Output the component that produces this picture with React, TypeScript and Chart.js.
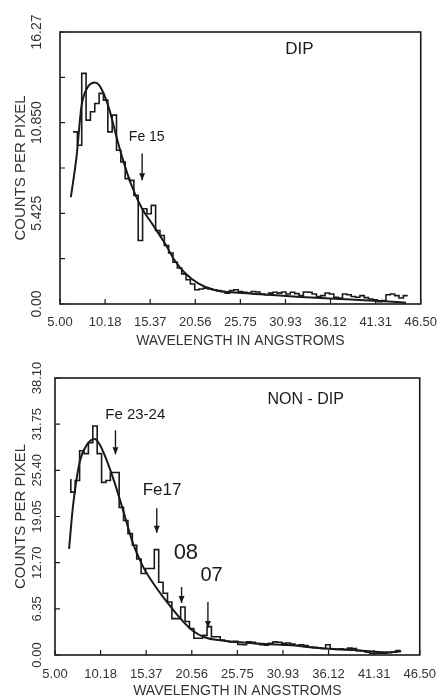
import React, { useEffect, useRef } from 'react';
import { Chart, registerables } from 'chart.js';
Chart.register(...registerables);

// ---------- data ----------
const X_TICKS = [5.0, 10.1875, 15.375, 20.5625, 25.75, 30.9375, 36.125, 41.3125, 46.5];
const X_TICK_LABELS = ['5.00', '10.18', '15.37', '20.56', '25.75', '30.93', '36.12', '41.31', '46.50'];

const DIP_Y_TICKS = [0, 2.7125, 5.425, 8.1375, 10.85, 13.5625, 16.275];
const DIP_Y_LABELS = ['0.00', '', '5.425', '', '10.850', '', '16.27'];

const NONDIP_Y_TICKS = [0, 6.35, 12.7, 19.05, 25.4, 31.75, 38.1];
const NONDIP_Y_LABELS = ['0.00', '6.35', '12.70', '19.05', '25.40', '31.75', '38.10'];

const BIN_WIDTH = 0.5;

const DIP_BIN_START = 6.5;
const dipCounts = [
  10.3, 9.5, 13.8, 11.0, 11.5, 12.0, 12.6, 12.2, 10.3, 11.3,
  9.2, 8.5, 7.5, 7.4, 6.5, 3.8, 5.7, 5.4, 5.9, 4.4,
  4.1, 3.5, 3.05, 2.5, 2.15, 1.8, 1.45, 1.2, 0.85, 0.9,
  0.95, 0.9, 0.85, 0.8, 0.75, 0.65, 0.8, 0.85, 0.75, 0.7,
  0.65, 0.75, 0.72, 0.6, 0.55, 0.65, 0.7, 0.65, 0.72, 0.6,
  0.7, 0.62, 0.5, 0.72, 0.7, 0.6, 0.45, 0.5, 0.66, 0.6,
  0.4, 0.36, 0.6, 0.55, 0.45, 0.4, 0.5, 0.38, 0.3, 0.25,
  0.14, 0.2, 0.55, 0.6, 0.5, 0.36, 0.5,
];
const dipFitX = [6.25, 6.9, 7.46, 8.0, 9.0, 9.5, 10.1, 10.7, 11.4, 12.2, 13.3, 14.45, 15.6, 17.1, 18.2, 19.4, 20.9, 22.8, 26.5, 32.2, 37.9, 41.7, 44.8];
const dipFitY = [6.4, 8.8, 11.8, 12.8, 13.25, 13.1, 12.5, 11.6, 10.2, 8.7, 7.0, 5.7, 4.8, 3.6, 2.6, 1.84, 1.24, 0.84, 0.64, 0.44, 0.28, 0.18, 0.08];

const NONDIP_BIN_START = 6.8;
const NONDIP_LEAD = 24.2;
const nonDipCounts = [
  22.4, 24.0, 28.1, 27.7, 29.2, 31.5, 27.7, 23.75, 24.0, 25.1,
  25.1, 20.3, 18.5, 16.7, 15.1, 13.2, 11.2, 11.9, 11.9, 14.5,
  10.0, 8.5, 7.3, 5.0, 5.0, 6.6, 4.6, 3.65, 2.3, 2.3,
  2.7, 3.9, 2.5, 2.5, 2.05, 1.9, 1.8, 1.9, 1.45, 1.4,
  1.8, 1.75, 1.55, 1.4, 1.35, 1.6, 1.8, 1.75, 1.6, 1.65,
  1.5, 1.35, 1.4, 1.3, 1.1, 1.05, 1.0, 0.9, 1.4, 0.8,
  0.75, 0.85, 0.8, 0.95, 0.9, 0.6, 0.55, 0.4, 0.25, 0.25,
  0.25, 0.25, 0.3, 0.4, 0.6,
];
const nonDipFitX = [6.6, 7.06, 7.8, 8.57, 9.5, 10.07, 10.83, 11.77, 12.7, 13.83, 14.96, 16.1, 17.6, 19.1, 20.6, 22.1, 24.0, 27.7, 31.5, 35.3, 39.0, 42.8, 44.4];
const nonDipFitY = [14.6, 20.6, 26.5, 28.8, 29.7, 29.0, 26.95, 23.75, 20.1, 15.5, 12.3, 10.0, 7.5, 5.25, 3.4, 2.4, 2.0, 1.6, 1.37, 0.92, 0.68, 0.37, 0.5];

// annotation texts (data coordinates)
const dipNoteText = ['DIP', 'Fe 15'];
const dipNoteX = [32.55, 14.98];
const dipNoteY = [15.26, 9.99];
const dipArrowX = [14.45];
const dipArrowFrom = [9.0];
const dipArrowTo = [7.4];

const nonDipNoteText = ['NON - DIP', 'Fe 23-24', 'Fe17', '08', '07'];
const nonDipNoteX = [33.53, 14.13, 17.18, 19.89, 22.82];
const nonDipNoteY = [35.1, 33.0, 22.7, 14.0, 11.0];
const nonDipArrowX = [11.88, 16.58, 19.4, 22.4];
const nonDipArrowFrom = [30.9, 20.2, 9.35, 7.3];
const nonDipArrowTo = [27.6, 16.8, 7.15, 3.7];

// ---------- styles ----------
const INK = '#1a1a1a';
const TEXT = '#333333';
const FONT = 'Liberation Sans';
const dipNoteSizes = [17, 14];
const nonDipNoteSizes = [16, 15, 17, 22, 20];

function histPoints(start: number, counts: number[], lead?: number) {
  const pts: { x: number; y: number }[] = [];
  if (lead !== undefined) pts.push({ x: start, y: lead });
  counts.forEach((v, i) => pts.push({ x: start + i * BIN_WIDTH, y: v }));
  pts.push({ x: start + counts.length * BIN_WIDTH, y: counts[counts.length - 1] });
  return pts;
}

const framePlugin = {
  id: 'frame',
  afterDraw(chart: any, _args: any, opts: any) {
    const { ctx, chartArea: a } = chart;
    const x = chart.scales.x;
    const y = chart.scales.y;
    ctx.save();
    ctx.strokeStyle = INK;
    ctx.lineWidth = 1.6;
    ctx.strokeRect(a.left, a.top, a.right - a.left, a.bottom - a.top);
    ctx.lineWidth = 1.2;
    ctx.beginPath();
    for (const t of y.ticks) {
      const py = y.getPixelForValue(t.value);
      ctx.moveTo(a.left, py);
      ctx.lineTo(a.left + 5, py);
    }
    for (const t of x.ticks) {
      const px = x.getPixelForValue(t.value);
      ctx.moveTo(px, a.bottom);
      ctx.lineTo(px, a.bottom - 5);
    }
    ctx.stroke();
    // notes
    ctx.fillStyle = INK;
    ctx.textAlign = 'center';
    ctx.textBaseline = 'middle';
    const n = opts.text.length;
    for (let i = 0; i < n; i++) {
      ctx.font = `${opts.sizes[i]}px "${FONT}"`;
      ctx.fillText(opts.text[i], x.getPixelForValue(opts.tx[i]), y.getPixelForValue(opts.ty[i]));
    }
    // arrows
    ctx.lineWidth = 1.4;
    for (let i = 0; i < opts.ax.length; i++) {
      const px = x.getPixelForValue(opts.ax[i]);
      const p0 = y.getPixelForValue(opts.af[i]);
      const p1 = y.getPixelForValue(opts.at[i]);
      ctx.beginPath();
      ctx.moveTo(px, p0);
      ctx.lineTo(px, p1);
      ctx.stroke();
      ctx.beginPath();
      ctx.moveTo(px - 3, p1 - 7);
      ctx.lineTo(px, p1);
      ctx.lineTo(px + 3, p1 - 7);
      ctx.closePath();
      ctx.fill();
    }
    ctx.restore();
  },
};

type PanelProps = {
  binStart: number;
  counts: number[];
  lead?: number;
  fitX: number[];
  fitY: number[];
  yTicks: number[];
  yLabels: string[];
  yMax: number;
  yLabelSize: number;
  layout: { left: number; right: number; top: number; bottom: number };
  xLabelPad: number;
  xTitlePadBottom: number;
  notes: any;
};

function Panel(p: PanelProps) {
  const ref = useRef<HTMLCanvasElement | null>(null);
  useEffect(() => {
    const canvas = ref.current;
    if (!canvas) return;
    const W = 448, H = 350;
    const chart = new Chart(canvas, {
      type: 'line',
      data: {
        datasets: [
          {
            data: histPoints(p.binStart, p.counts, p.lead),
            stepped: true,
            borderColor: INK,
            borderWidth: 1.6,
            pointRadius: 0,
            fill: false,
          },
          {
            data: p.fitX.map((v, i) => ({ x: v, y: p.fitY[i] })),
            cubicInterpolationMode: 'monotone',
            borderColor: INK,
            borderWidth: 2,
            pointRadius: 0,
            fill: false,
          },
        ],
      },
      options: {
        responsive: false,
        animation: false,
        events: [],
        layout: {
          padding: { left: 0, top: p.layout.top, right: W - p.layout.right, bottom: 0 },
        },
        plugins: {
          legend: { display: false },
          tooltip: { enabled: false },
          frame: p.notes,
        } as any,
        scales: {
          x: {
            type: 'linear',
            min: 5,
            max: 46.5,
            afterBuildTicks: (s: any) => {
              s.ticks = X_TICKS.map((v) => ({ value: v }));
            },
            afterFit: (s: any) => {
              s.height = H - p.layout.bottom;
            },
            grid: { display: false, drawTicks: false },
            border: { display: false },
            ticks: {
              autoSkip: false,
              maxRotation: 0,
              minRotation: 0,
              padding: p.xLabelPad,
              color: TEXT,
              font: { family: FONT, size: 13 },
              callback: (_v: any, i: number) => X_TICK_LABELS[i],
            },
            title: {
              display: true,
              text: 'WAVELENGTH IN ANGSTROMS',
              color: TEXT,
              font: { family: FONT, size: 14 },
              padding: { top: 0, bottom: p.xTitlePadBottom },
            },
          },
          y: {
            type: 'linear',
            min: 0,
            max: p.yMax,
            afterBuildTicks: (s: any) => {
              s.ticks = p.yTicks.map((v) => ({ value: v }));
            },
            afterFit: (s: any) => {
              s.width = p.layout.left;
            },
            grid: { display: false, drawTicks: false },
            border: { display: false },
            ticks: {
              autoSkip: false,
              minRotation: 90,
              maxRotation: 90,
              crossAlign: 'center',
              padding: 1,
              color: TEXT,
              font: { family: FONT, size: p.yLabelSize },
              callback: (_v: any, i: number) => p.yLabels[i],
            },
            title: {
              display: true,
              text: 'COUNTS PER PIXEL',
              color: TEXT,
              font: { family: FONT, size: 15 },
              padding: { top: 12, bottom: 0 },
            },
          },
        },
      } as any,
      plugins: [framePlugin],
    });
    return () => chart.destroy();
  }, []);
  return <canvas ref={ref} width={448} height={350} style={{ display: 'block', width: 448, height: 350 }} />;
}

export default function App() {
  return (
    <div style={{ position: 'absolute', left: 0, top: 0, width: 448, height: 700, background: '#fff' }}>
      <Panel
        binStart={DIP_BIN_START}
        counts={dipCounts}
        fitX={dipFitX}
        fitY={dipFitY}
        yTicks={DIP_Y_TICKS}
        yLabels={DIP_Y_LABELS}
        yMax={16.275}
        yLabelSize={14}
        layout={{ left: 60, right: 426, top: 32, bottom: 304 }}
        xLabelPad={11}
        xTitlePadBottom={0}
        notes={{ text: dipNoteText, tx: dipNoteX, ty: dipNoteY, sizes: dipNoteSizes, ax: dipArrowX, af: dipArrowFrom, at: dipArrowTo }}
      />
      <Panel
        binStart={NONDIP_BIN_START}
        counts={nonDipCounts}
        lead={NONDIP_LEAD}
        fitX={nonDipFitX}
        fitY={nonDipFitY}
        yTicks={NONDIP_Y_TICKS}
        yLabels={NONDIP_Y_LABELS}
        yMax={38.1}
        yLabelSize={13}
        layout={{ left: 55, right: 423, top: 28, bottom: 305 }}
        xLabelPad={12}
        xTitlePadBottom={0}
        notes={{ text: nonDipNoteText, tx: nonDipNoteX, ty: nonDipNoteY, sizes: nonDipNoteSizes, ax: nonDipArrowX, af: nonDipArrowFrom, at: nonDipArrowTo }}
      />
    </div>
  );
}
